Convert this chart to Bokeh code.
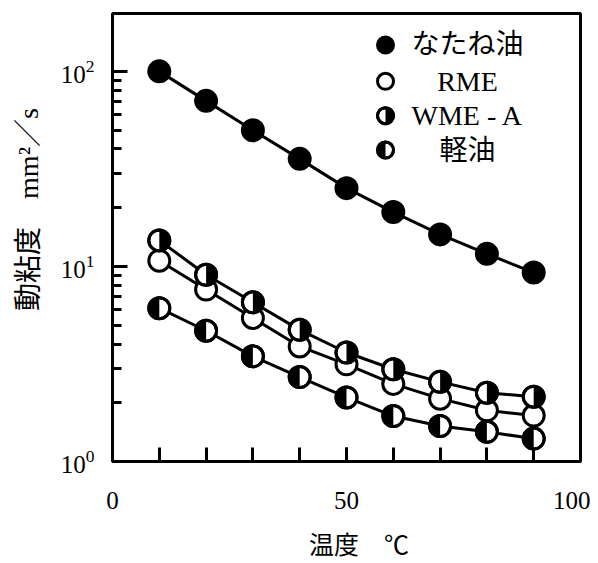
import math
from bokeh.plotting import figure
from bokeh.models import Range1d, FixedTicker, LogTickFormatter
from bokeh.core.properties import value
from bokeh.embed import file_html
from bokeh.resources import INLINE

# ---- data ----
temps = [10, 20, 30, 40, 50, 60, 70, 80, 90]            # 温度 ℃
rapeseed = [100, 70.6, 49.9, 35.6, 25.2, 19.0, 14.6, 11.6, 9.3]   # なたね油
rme = [10.7, 7.61, 5.44, 3.89, 3.15, 2.50, 2.10, 1.83, 1.72]      # RME
wme_a = [13.6, 9.06, 6.55, 4.73, 3.62, 2.97, 2.56, 2.25, 2.15]    # WME - A
diesel = [6.11, 4.68, 3.46, 2.71, 2.13, 1.71, 1.52, 1.42, 1.31]   # 軽油

series_names = ["なたね油", "RME", "WME - A", "軽油"]
x_ticks = [0, 50, 100]
x_minor = [10, 20, 30, 40, 50, 60, 70, 80, 90]
y_ticks = [1, 10, 100]
y_minor = [2, 3, 4, 5, 6, 7, 8, 9, 20, 30, 40, 50, 60, 70, 80, 90]

X0, X1 = 0, 100
Y0, Y1 = 1, 198

# ---- layout ----
FRAME_W, FRAME_H = 468, 456
BL, BT = 112, 13
W, H = 590, 561

SERIF = "'Liberation Serif', 'Noto Sans CJK JP'"

p = figure(width=W, height=H, x_range=Range1d(X0, X1), y_range=Range1d(Y0, Y1),
           y_axis_type="log", output_backend="svg", toolbar_location=None,
           min_border_left=BL, min_border_top=BT,
           min_border_right=W - BL - FRAME_W, min_border_bottom=H - BT - FRAME_H)
p.grid.visible = False
p.outline_line_color = "black"
p.outline_line_width = 3
p.background_fill_color = "white"
p.border_fill_color = "white"

xa = p.xaxis[0]
xa.ticker = FixedTicker(ticks=x_ticks, minor_ticks=x_minor)
ya = p.yaxis[0]
ya.ticker = FixedTicker(ticks=y_ticks, minor_ticks=y_minor)
ya.formatter = LogTickFormatter()

for ax in (xa, ya):
    ax.axis_line_width = 3
    ax.axis_line_color = "black"
    ax.major_tick_out = 0
    ax.minor_tick_out = 0
    ax.major_tick_line_width = 3
    ax.minor_tick_line_width = 3
    ax.major_label_text_font = SERIF
    ax.major_label_text_font_size = "25px"
    ax.major_label_text_color = "black"
    ax.axis_label_text_font = SERIF
    ax.axis_label_text_font_style = "normal"
    ax.axis_label_text_font_size = "25px"
    ax.axis_label_text_color = "black"

xa.major_tick_in = 14
xa.minor_tick_in = 14
xa.major_label_standoff = 30
xa.axis_label = "\u3000温度\u3000℃"
xa.axis_label_standoff = 20

ya.major_tick_in = 15
ya.minor_tick_in = 9
ya.major_label_standoff = 18
ya.axis_label = "\u3000\u3000動粘度\u3000mm²／s"
ya.axis_label_text_font_size = "28px"
ya.axis_label_standoff = 14

# ---- series ----
R = 10.5     # marker radius (screen px)
LW = 3

def px_to_x(px):
    return X0 + (X1 - X0) * px / FRAME_W

def px_to_y(py):
    return 10 ** (math.log10(Y1) - (math.log10(Y1) - math.log10(Y0)) * py / FRAME_H)

for ys in (rapeseed, rme, wme_a, diesel):
    p.line(temps, ys, line_color="black", line_width=LW)

def draw_marker(xs, ys, kind, r):
    size = 2 * r
    if kind == "full":
        p.scatter(xs, ys, size=size, fill_color="black", line_color="black", line_width=LW)
        return
    p.scatter(xs, ys, size=size, fill_color="white", line_color="black", line_width=LW)
    if kind == "right":
        p.wedge(xs, ys, radius=r, radius_units="screen", start_angle=-math.pi / 2,
                end_angle=math.pi / 2, fill_color="black", line_color=None)
    elif kind == "left":
        p.wedge(xs, ys, radius=r, radius_units="screen", start_angle=math.pi / 2,
                end_angle=3 * math.pi / 2, fill_color="black", line_color=None)
    if kind != "open":
        p.scatter(xs, ys, size=size, fill_color=None, line_color="black", line_width=LW)

kinds = ["full", "open", "right", "left"]
draw_marker(temps, rapeseed, "full", R)
draw_marker(temps, rme, "open", R)
draw_marker(temps, wme_a, "right", R)
draw_marker(temps, diesel, "left", R)

# ---- legend (layout in frame pixels) ----
LEG_MARK_PX = 273
LEG_TEXT_PX = 355
LEG_ROWS_PX = [32, 69, 104, 139]
for name, kind, row in zip(series_names, kinds, LEG_ROWS_PX):
    draw_marker([px_to_x(LEG_MARK_PX)], [px_to_y(row)], kind, 8)
    p.text([px_to_x(LEG_TEXT_PX)], [px_to_y(row)], text=[name],
           text_font=value(SERIF), text_font_size="28px", text_color="black",
           text_align="center", text_baseline="middle")

open("out.html", "w").write(file_html(p, INLINE))
